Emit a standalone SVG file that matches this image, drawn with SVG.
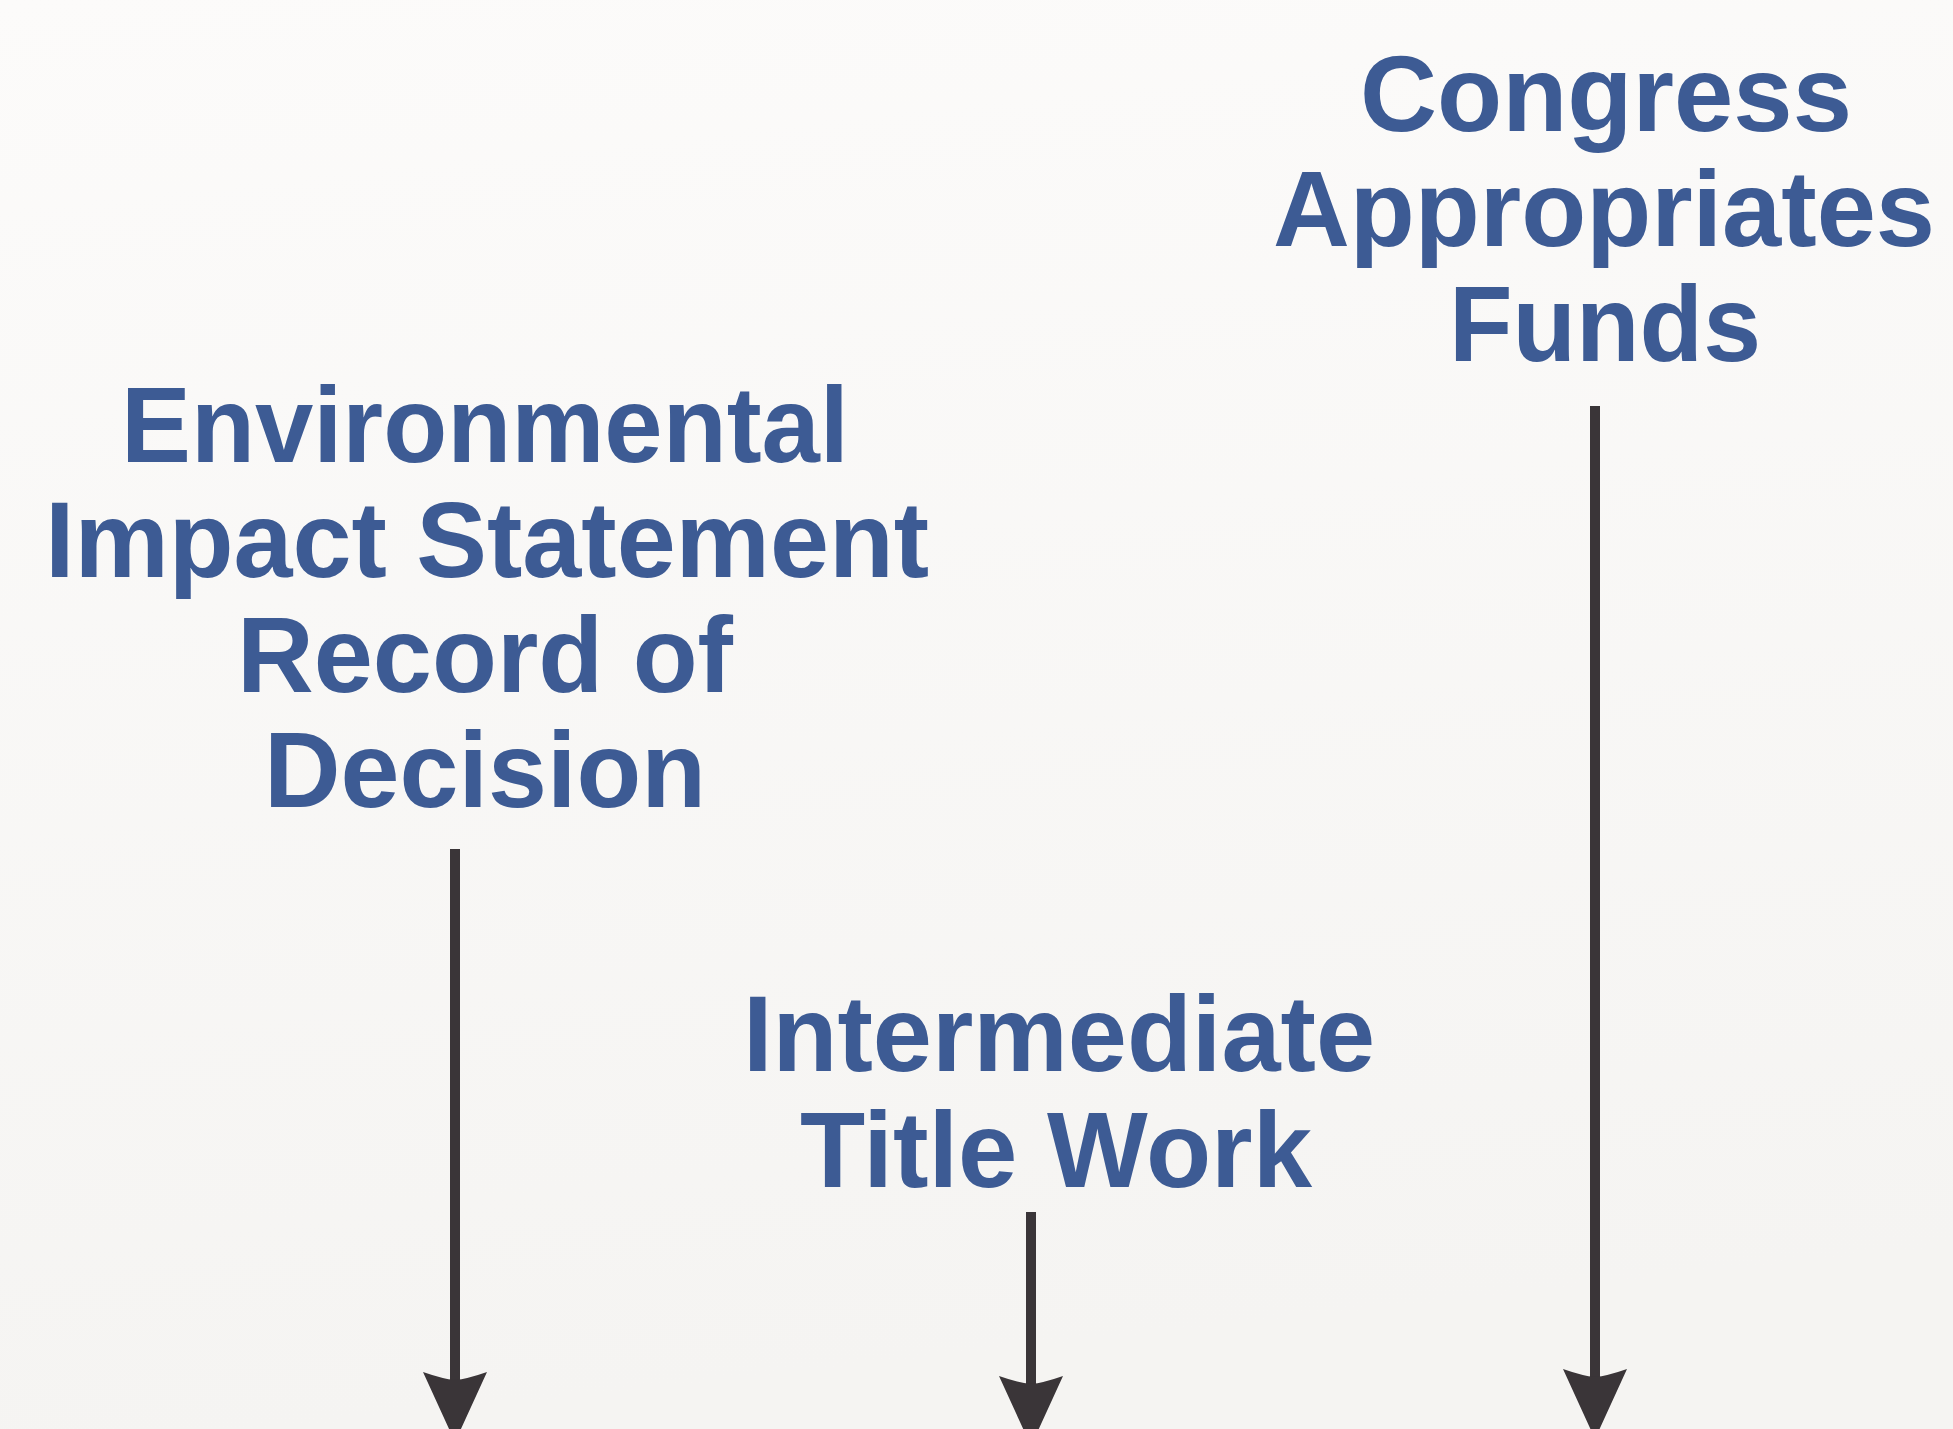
<svg xmlns="http://www.w3.org/2000/svg" width="1953" height="1429" viewBox="0 0 1953 1429">
<style>
.lbl{font-family:"Liberation Sans",Arial,Helvetica,sans-serif;font-weight:bold;font-size:108px;fill:#3d5b94;text-anchor:middle}
.conn{stroke:#3a3538;stroke-width:10;fill:none}
</style>
<defs>
<linearGradient id="bg" x1="0" y1="0" x2="0.15" y2="1">
<stop offset="0" stop-color="#fcfbfa"/>
<stop offset="1" stop-color="#f5f4f2"/>
</linearGradient>
<marker id="ah" markerUnits="userSpaceOnUse" orient="auto" refX="0" refY="0" markerWidth="200" markerHeight="200" viewBox="-100 -100 200 200" overflow="visible">
<path d="M 62 0 L -8 -32 Q -1 -12 0 0 Q -1 12 -8 32 Z" fill="#3a3538"/>
</marker>
</defs>
<rect width="1953" height="1429" fill="url(#bg)"/>
<g id="node-eis">
<text class="lbl" x="485" y="462" textLength="728" lengthAdjust="spacingAndGlyphs">Environmental</text>
<text class="lbl" x="487" y="577" textLength="884" lengthAdjust="spacingAndGlyphs">Impact Statement</text>
<text class="lbl" x="485" y="692" textLength="496" lengthAdjust="spacingAndGlyphs">Record of</text>
<text class="lbl" x="485" y="807" textLength="442" lengthAdjust="spacingAndGlyphs">Decision</text>
</g>
<g id="node-congress">
<text class="lbl" x="1606" y="131" textLength="492" lengthAdjust="spacingAndGlyphs">Congress</text>
<text class="lbl" x="1604" y="246" textLength="662" lengthAdjust="spacingAndGlyphs">Appropriates</text>
<text class="lbl" x="1605" y="361" textLength="312" lengthAdjust="spacingAndGlyphs">Funds</text>
</g>
<g id="node-title">
<text class="lbl" x="1059" y="1071" textLength="632" lengthAdjust="spacingAndGlyphs">Intermediate</text>
<text class="lbl" x="1056" y="1187" textLength="512" lengthAdjust="spacingAndGlyphs">Title Work</text>
</g>
<g id="connectors">
<line class="conn" x1="455" y1="849" x2="455" y2="1380" marker-end="url(#ah)"/>
<line class="conn" x1="1031" y1="1212" x2="1031" y2="1384" marker-end="url(#ah)"/>
<line class="conn" x1="1595" y1="406" x2="1595" y2="1377" marker-end="url(#ah)"/>
</g>
</svg>
